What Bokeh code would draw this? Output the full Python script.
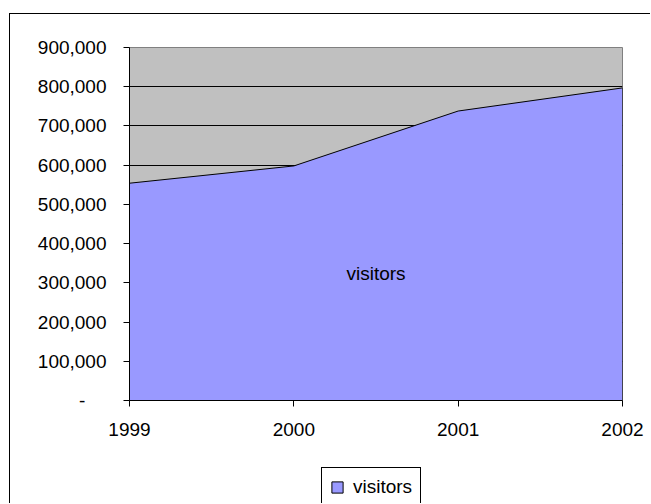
from bokeh.plotting import figure
from bokeh.layouts import column
from bokeh.models import FixedTicker, Label, Legend, LegendItem, Range1d
from bokeh.embed import file_html
from bokeh.resources import INLINE

# ---- data ----
years = [1999, 2000, 2001, 2002]
visitors = [554000, 598000, 738000, 797000]
series_name = "visitors"
y_ticks = [0, 100000, 200000, 300000, 400000, 500000, 600000, 700000, 800000, 900000]
y_tick_labels = ["-\u00a0\u00a0\u00a0\u00a0", "100,000", "200,000", "300,000", "400,000",
                 "500,000", "600,000", "700,000", "800,000", "900,000"]
x_tick_labels = ["1999", "2000", "2001", "2002"]

FONT = "Liberation Sans"
FS = "19px"
AREA_FILL = "#9999FF"

p = figure(width=640, height=446,
           x_range=Range1d(years[0], years[-1]), y_range=Range1d(y_ticks[0], y_ticks[-1]),
           output_backend="svg", toolbar_location=None,
           min_border_left=119, min_border_right=28, min_border_top=33, min_border_bottom=60,
           background_fill_color="#C0C0C0", border_fill_color="white",
           outline_line_color="#808080", outline_line_width=1)

# area
xs = list(years) + list(years[::-1])
ys = list(visitors) + [0] * len(years)
r = p.patch(xs, ys, fill_color=AREA_FILL, line_color="black", line_width=1)

# grid
p.xgrid.visible = False
p.ygrid.ticker = FixedTicker(ticks=y_ticks[1:-1])
p.ygrid.grid_line_color = "black"
p.ygrid.grid_line_width = 1

# axes
for ax in (p.xaxis[0], p.yaxis[0]):
    ax.axis_line_color = "black"
    ax.axis_line_width = 1
    ax.major_tick_line_color = "black"
    ax.major_tick_in = 0
    ax.major_tick_out = 6
    ax.minor_tick_line_color = None
    ax.major_label_text_font = FONT
    ax.major_label_text_font_size = FS
    ax.major_label_text_color = "black"

p.yaxis.ticker = FixedTicker(ticks=y_ticks)
p.yaxis.major_label_overrides = {t: l for t, l in zip(y_ticks, y_tick_labels)}
p.yaxis.major_label_standoff = 17

p.xaxis.ticker = FixedTicker(ticks=years)
p.xaxis.major_label_overrides = {t: l for t, l in zip(years, x_tick_labels)}
p.xaxis.major_label_standoff = 16

# data label (series name inside the area)
p.add_layout(Label(x=(years[0] + years[-1]) / 2, y=325000, text=series_name,
                   text_align="center", text_baseline="alphabetic",
                   text_font=FONT, text_font_size=FS, text_color="black"))

# ---- legend strip below the chart ----
p2 = figure(width=640, height=43, x_range=Range1d(0, 1), y_range=Range1d(0, 1),
            x_axis_type=None, y_axis_type=None,
            output_backend="svg", toolbar_location=None,
            min_border=0, min_border_left=0, min_border_right=0,
            min_border_top=0, min_border_bottom=0,
            background_fill_color="white", border_fill_color="white",
            outline_line_color=None)
p2.xgrid.visible = False
p2.ygrid.visible = False
# same series drawn outside the visible range, only used as the legend's glyph
proxy = p2.patch(xs, ys, fill_color=AREA_FILL, line_color="black", line_width=1)

legend = Legend(items=[LegendItem(label=series_name, renderers=[proxy])],
                location=(192, -4), orientation="horizontal",
                border_line_color="black", border_line_width=1, border_line_alpha=1,
                background_fill_color="white", background_fill_alpha=1,
                label_text_font=FONT, label_text_font_size=FS, label_text_color="black",
                glyph_width=14, glyph_height=14, padding=8, spacing=0, margin=0,
                label_standoff=9)
p2.add_layout(legend)

layout = column(p, p2, spacing=0, margin=(13, 0, 0, 9))
layout.styles = {"border-left": "1px solid black", "border-top": "1px solid black"}

open("out.html", "w").write(file_html(layout, INLINE))
